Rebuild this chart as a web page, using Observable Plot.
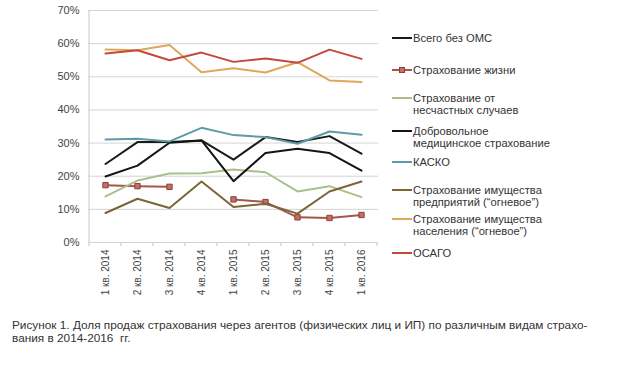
<!DOCTYPE html>
<html><head><meta charset="utf-8">
<script src="https://cdn.jsdelivr.net/npm/d3@7"></script>
<script src="https://cdn.jsdelivr.net/npm/@observablehq/plot@0.6"></script>
<style>
body{margin:0;background:#fff;font-family:"Liberation Sans",Arial,sans-serif;}
#wrap{position:relative;width:620px;height:365px;overflow:hidden;background:#fff}
#chart{position:absolute;left:0;top:0}
.li{position:absolute;left:392px;font-size:11.2px;line-height:12px;color:#333;display:flex;align-items:flex-start;white-space:nowrap}
.sw{width:20px;height:2px;margin-top:5px;margin-right:1px;position:relative;flex:none}
.mk{position:absolute;left:7px;top:-2px;width:6px;height:6px;box-sizing:border-box}
#cap{position:absolute;left:12px;top:319px;font-size:11.8px;line-height:13px;color:#333;width:605px;white-space:nowrap}
</style></head>
<body>
<div id="wrap">
  <div id="chart"></div>
  <div id="legend"></div>
  <div id="cap">Рисунок 1. Доля продаж страхования через агентов (физических лиц и ИП) по различным видам страхо-<br>вания в 2014-2016&nbsp; гг.</div>
</div>
<script>
const categories = ["1 кв. 2014","2 кв. 2014","3 кв. 2014","4 кв. 2014","1 кв. 2015","2 кв. 2015","3 кв. 2015","4 кв. 2015","1 кв. 2016"];
const yTicks = [0,10,20,30,40,50,60,70];

const seriesNames = [
  "Всего без ОМС",
  "Страхование жизни",
  "Страхование от\nнесчастных случаев",
  "Добровольное\nмедицинское страхование",
  "КАСКО",
  "Страхование имущества\nпредприятий  (“огневое”)",
  "Страхование имущества\nнаселения (“огневое”)",
  "ОСАГО"
];
const totalNoOMS = [23.7, 30.3, 30.3, 30.8, 25.0, 31.8, 30.3, 32.1, 26.8];
const life       = [17.3, 17.0, 16.8, null, 13.0, 12.2, 7.6, 7.4, 8.3];
const accident   = [13.9, 18.7, 20.8, 20.9, 22.0, 21.2, 15.4, 17.0, 13.7];
const dms        = [19.9, 23.2, 30.1, 30.8, 18.5, 27.0, 28.3, 27.0, 21.7];
const kasko      = [31.1, 31.3, 30.5, 34.6, 32.4, 31.8, 29.8, 33.5, 32.5];
const propCorp   = [8.9, 13.2, 10.4, 18.4, 10.7, 11.7, 8.7, 15.4, 18.4];
const propHouse  = [58.2, 58.0, 59.6, 51.4, 52.6, 51.3, 54.4, 48.9, 48.4];
const osago      = [57.0, 58.0, 55.0, 57.3, 54.5, 55.5, 54.2, 58.2, 55.4];

const seriesValues = [totalNoOMS, life, accident, dms, kasko, propCorp, propHouse, osago];
const colors = ["#1a1a1a", "#a5574c", "#a9c08c", "#141414", "#5d9ba8", "#7c6638", "#e0a75a", "#c4493a"];
const legendTops = [32, 64, 92, 125, 156, 184, 213, 247];

const table = [];
seriesValues.forEach((vals, s) => vals.forEach((v, i) => table.push({series: s, cat: categories[i], value: v})));

const marks = [
  Plot.gridY(yTicks, {stroke: "#d4d4d4", strokeOpacity: 1}),
  Plot.axisY(yTicks, {tickSize: 0, tickPadding: 9, fontSize: 11, tickFormat: d => d + "%", fill: "#444"}),
  Plot.axisX({tickRotate: -90, tickSize: 0, tickPadding: 7, fontSize: 10, fill: "#444", label: null})
];
seriesValues.forEach((vals, s) => {
  const rows = table.filter(r => r.series === s);
  marks.push(Plot.line(rows, {x: "cat", y: "value", stroke: colors[s], strokeWidth: 2, curve: "linear"}));
  if (s === 1) {
    marks.push(Plot.dot(rows.filter(r => r.value != null), {x: "cat", y: "value", symbol: "square", r: 3, fill: "#c07064", stroke: "#8e3e36", strokeWidth: 1}));
  }
});

const plot = Plot.plot({
  width: 620, height: 310,
  marginTop: 10, marginBottom: 68, marginLeft: 88, marginRight: 242,
  style: {fontFamily: "Liberation Sans, Arial, sans-serif", fontSize: "10px", background: "transparent", color: "#444"},
  x: {type: "point", domain: categories, padding: 0.5, label: null},
  y: {domain: [0, 70], label: null},
  marks
});
document.getElementById("chart").appendChild(plot);

// left axis line and category boundary ticks, derived from the scales
try {
  const xs = plot.scale("x"), ys = plot.scale("y");
  const step = xs.apply(categories[1]) - xs.apply(categories[0]);
  const y0 = ys.apply(0), yTop = ys.apply(70);
  const g = d3.select(plot).append("g").attr("stroke", "#c8c8c8").attr("stroke-width", 1);
  const xl = xs.apply(categories[0]) - step/2;
  g.append("line").attr("x1", xl).attr("x2", xl).attr("y1", yTop).attr("y2", y0 + 4);
  categories.forEach(c => {
    const x = xs.apply(c) + step/2;
    g.append("line").attr("x1", x).attr("x2", x).attr("y1", y0).attr("y2", y0 + 4);
  });
  g.lower();
} catch (e) { console.error(e); }

// legend
const lg = document.getElementById("legend");
seriesNames.forEach((name, s) => {
  const item = document.createElement("div");
  item.className = "li";
  item.style.top = legendTops[s] + "px";
  const sw = document.createElement("div");
  sw.className = "sw";
  sw.style.background = colors[s];
  if (s === 1) {
    const mk = document.createElement("div");
    mk.className = "mk";
    mk.style.background = "#c07064";
    mk.style.border = "1px solid #8e3e36";
    sw.appendChild(mk);
  }
  const tx = document.createElement("div");
  tx.innerHTML = name.split("\n").join("<br>");
  item.appendChild(sw);
  item.appendChild(tx);
  lg.appendChild(item);
});
</script>
</body></html>
